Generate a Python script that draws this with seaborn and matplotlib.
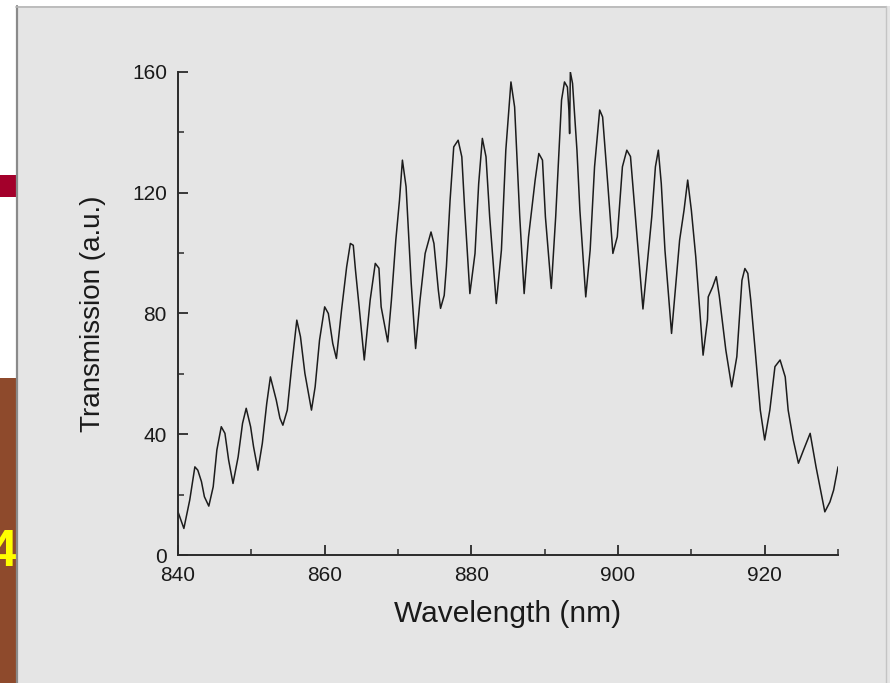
import matplotlib
matplotlib.use("Agg")
import matplotlib.pyplot as plt
from matplotlib.patches import Rectangle
from matplotlib.ticker import MultipleLocator
import seaborn as sns
import pandas as pd

# -----------------------------
# Data
# -----------------------------
wavelength = [
    840.0, 840.8, 841.6, 842.3, 842.7, 843.2, 843.6, 844.2, 844.8, 845.3,
    845.9, 846.4, 846.9, 847.5, 848.2, 848.8, 849.3, 849.9, 850.3, 850.9,
    851.5, 852.1, 852.6, 853.4, 853.9, 854.3, 854.9, 855.5, 856.2, 856.7,
    857.3, 858.2, 858.7, 859.3, 860.0, 860.5, 861.1, 861.6, 862.3, 863.0,
    863.5, 863.9, 864.2, 864.7, 865.4, 866.2, 866.9, 867.4, 867.7, 868.6,
    869.1, 869.7, 870.2, 870.6, 871.1, 871.8, 872.4, 873.0, 873.7, 874.5,
    874.9, 875.5, 875.8, 876.3, 876.6, 877.1, 877.6, 878.2, 878.7, 879.1,
    879.8, 880.5, 881.0, 881.5, 882.0, 882.5, 883.4, 884.1, 884.7, 885.4,
    885.9, 886.6, 887.2, 887.8, 888.7, 889.2, 889.7, 890.1, 890.9, 891.5,
    892.3, 892.7, 893.1, 893.3, 893.4, 893.5, 893.8, 894.4, 894.8, 895.6,
    896.2, 896.8, 897.5, 897.9, 898.6, 899.3, 899.9, 900.6, 901.2, 901.7,
    902.3, 903.4, 904.6, 905.1, 905.5, 905.9, 906.4, 907.3, 908.4, 909.0,
    909.5, 910.0, 910.6, 911.6, 912.2, 912.3, 912.9, 913.4, 913.8, 914.7,
    915.5, 916.2, 916.9, 917.3, 917.7, 918.1, 918.7, 919.4, 920.0, 920.7,
    921.4, 922.1, 922.8, 923.2, 923.9, 924.6, 925.3, 926.2, 927.0, 928.2,
    928.9, 929.4, 930.0,
]
transmission = [
    14.3, 8.8, 18.2, 29.2, 28.1, 24.3, 19.3, 16.2, 22.6, 34.8,
    42.5, 40.3, 31.5, 23.7, 32.5, 43.6, 48.6, 42.5, 35.9, 28.1,
    37.0, 50.2, 59.0, 51.3, 45.3, 43.0, 48.0, 62.4, 77.8, 72.3,
    60.2, 48.0, 55.7, 71.2, 82.2, 80.0, 70.1, 65.1, 81.1, 95.5,
    103.2, 102.6, 94.4, 82.2, 64.6, 84.4, 96.6, 95.0, 82.2, 70.6,
    84.4, 104.3, 117.5, 130.8, 122.0, 90.0, 68.4, 84.4, 99.9, 107.0,
    103.2, 87.7, 81.7, 86.0, 95.5, 117.5, 135.2, 137.4, 131.9, 114.2,
    86.6, 99.9, 123.0, 138.0, 131.9, 112.0, 83.3, 101.0, 134.1, 156.7,
    148.4, 112.0, 86.6, 105.4, 124.2, 133.0, 130.8, 112.0, 88.3, 112.0,
    150.7, 156.7, 155.0, 147.4, 139.6, 160.0, 156.2, 134.1, 114.2, 85.5,
    101.0, 128.6, 147.4, 145.1, 123.0, 99.9, 105.4, 128.6, 134.1, 132.0,
    114.2, 81.5, 112.0, 128.6, 134.1, 123.0, 101.0, 73.4, 104.3, 114.2,
    124.2, 114.2, 98.8, 66.2, 78.0, 85.5, 88.8, 92.2, 86.0, 67.9,
    55.7, 65.7, 91.0, 94.9, 93.3, 84.4, 67.9, 48.0, 38.1, 48.0,
    62.4, 64.6, 59.0, 48.0, 38.1, 30.4, 34.8, 40.3, 29.2, 14.3,
    17.6, 21.5, 29.2,
]

df = pd.DataFrame({"Wavelength": wavelength, "Transmission": transmission})

# -----------------------------
# Style
# -----------------------------
sns.set_theme(style="ticks")
plt.rcParams["font.family"] = ["Liberation Sans", "DejaVu Sans"]

fig = plt.figure(figsize=(8.9, 6.83), dpi=100, facecolor="white")

# -----------------------------
# Slide background (screenshot frame)
# -----------------------------
bg = fig.add_axes([0, 0, 1, 1], zorder=-1)
bg.set_xlim(0, 890)
bg.set_ylim(683, 0)
bg.axis("off")
bg.add_patch(Rectangle((16, 6), 874, 677, facecolor="#e5e5e5", edgecolor="none", zorder=1))
bg.add_patch(Rectangle((0, 175), 16, 22, facecolor="#a3002b", edgecolor="none", zorder=1))
bg.add_patch(Rectangle((0, 378), 16, 305, facecolor="#8e4a2c", edgecolor="none", zorder=1))
# slide number, partly hidden behind the chart panel as in the screenshot
bg.text(17, 552, "4", color="#ffff00", fontsize=37, fontweight="bold",
        ha="right", va="center", zorder=2)
bg.add_patch(Rectangle((16.5, 378), 20, 305, facecolor="#e5e5e5", edgecolor="none", zorder=3))
bg.plot([16.5, 16.5], [6, 683], color="#8a8a8a", lw=1.6, zorder=4)
bg.plot([16, 886], [6.5, 6.5], color="#b5b5b5", lw=1.2, zorder=4)
bg.plot([885.5, 885.5], [6, 683], color="#c4c4c4", lw=1.0, zorder=4)

# -----------------------------
# Spectrum
# -----------------------------
ax = fig.add_axes([0.2, 0.1874, 0.7416, 0.7072])
ax.patch.set_alpha(0)
sns.lineplot(data=df, x="Wavelength", y="Transmission", sort=False,
             estimator=None, color="#1c1c1c", linewidth=1.1, ax=ax)

ax.set_xlim(840, 930)
ax.set_ylim(0, 160)
ax.xaxis.set_major_locator(MultipleLocator(20))
ax.xaxis.set_minor_locator(MultipleLocator(10))
ax.yaxis.set_major_locator(MultipleLocator(40))
ax.yaxis.set_minor_locator(MultipleLocator(20))
ax.tick_params(which="major", direction="in", length=7, width=1.3,
               labelsize=15, pad=8, color="#2a2a2a", labelcolor="#1a1a1a")
ax.tick_params(which="minor", direction="in", length=4, width=1.1, color="#2a2a2a")
sns.despine(ax=ax)
for side in ["left", "bottom"]:
    ax.spines[side].set_linewidth(1.4)
    ax.spines[side].set_color("#2a2a2a")

ax.set_xlabel("Wavelength (nm)", fontsize=21.5, color="#1a1a1a")
ax.set_ylabel("Transmission (a.u.)", fontsize=20, color="#1a1a1a")
ax.xaxis.set_label_coords(0.5, -0.093)
ax.yaxis.set_label_coords(-0.109, 0.5)

plt.savefig("out.png", dpi=100)
plt.close()
